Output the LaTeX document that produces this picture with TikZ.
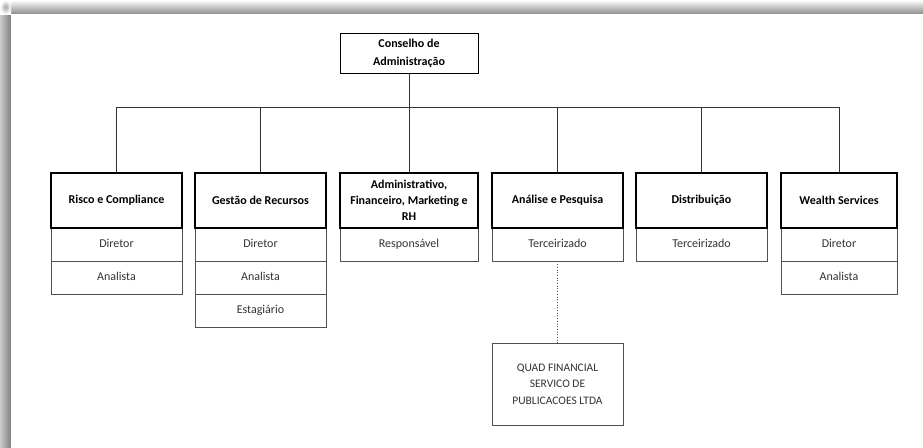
\documentclass[tikz,border=0pt]{standalone}
\usepackage{fontspec}
\setmainfont{Carlito}
\usetikzlibrary{positioning}
\definecolor{subtext}{HTML}{333333}
\definecolor{subline}{HTML}{505050}
\begin{document}
\begin{tikzpicture}[x=1pt,y=-1pt,
  dept/.style={draw=black, line width=1.3pt, fill=white, minimum height=55pt, inner sep=2pt,
    font=\fontsize{12}{16}\selectfont\bfseries, align=center, text=black},
  subrow/.style={draw=subline, line width=0.8pt, fill=white, minimum height=33pt, inner sep=1pt,
    text height=9pt, text depth=3pt,
    font=\fontsize{12}{15}\selectfont, text=subtext},
  topbox/.style={draw=black, line width=0.9pt, fill=white, minimum width=138pt, minimum height=40pt,
    font=\fontsize{12}{18}\selectfont\bfseries, align=center, text=black, inner sep=1pt},
  quadbox/.style={draw=subline, line width=0.8pt, fill=white, minimum width=131pt, minimum height=82pt,
    font=\fontsize{11.5}{16.5}\selectfont, align=center, text=subtext},
  link/.style={draw=black!80, line width=0.8pt},
  dotlink/.style={draw=black!70, line width=0.7pt, dotted}
]
\useasboundingbox (0,0) rectangle (923,447);
% page shadow
\fill[white] (0,0) rectangle (923,447);
\shade[top color=white, bottom color=black!45] (10,0) rectangle (923,14);
\shade[left color=black!20, right color=black!50] (0,14) rectangle (11,447);
\shade[inner color=black!35, outer color=white] (0,0) rectangle (11,14);
\fill[white] (11,14) rectangle (923,447);

% top
\node[topbox] (top) at (409,53) {Conselho de\\Administração};

% departments
\node[dept, minimum width=131pt] (d1) at (116.5,200.5) {Risco e Compliance};
\node[dept, minimum width=131pt] (d2) at (260.5,200.5) {Gestão de Recursos};
\node[dept, minimum width=138pt] (d3) at (409,200.5) {Administrativo,\\Financeiro, Marketing e\\RH};
\node[dept, minimum width=131pt] (d4) at (557.5,200.5) {Análise e Pesquisa};
\node[dept, minimum width=131pt] (d5) at (701.5,200.5) {Distribuição};
\node[dept, minimum width=116pt] (d6) at (839,200.5) {Wealth Services};

% sub rows
\node[subrow, minimum width=131pt] (r1a) at (116.5,244.5) {Diretor};
\node[subrow, minimum width=131pt] (r1b) at (116.5,277.5) {Analista};
\node[subrow, minimum width=131pt] (r2a) at (260.5,244.5) {Diretor};
\node[subrow, minimum width=131pt] (r2b) at (260.5,277.5) {Analista};
\node[subrow, minimum width=131pt] (r2c) at (260.5,310.5) {Estagiário};
\node[subrow, minimum width=138pt] (r3a) at (409,244.5) {Responsável};
\node[subrow, minimum width=131pt] (r4a) at (557.5,244.5) {Terceirizado};
\node[subrow, minimum width=131pt] (r5a) at (701.5,244.5) {Terceirizado};
\node[subrow, minimum width=116pt] (r6a) at (839,244.5) {Diretor};
\node[subrow, minimum width=116pt] (r6b) at (839,277.5) {Analista};

% redraw dept borders on top of sub rows
\foreach \n in {d1,d2,d3,d4,d5,d6}{\draw[line width=1.3pt] (\n.south west) rectangle (\n.north east);}

% outsourced provider
\node[quadbox] (quad) at (557.5,384) {QUAD FINANCIAL\\SERVICO DE\\PUBLICACOES LTDA};

% connectors
\coordinate (bus) at (0,107);
\draw[link] (top.south) -- (top.south |- bus);
\draw[link] (d1.north |- bus) -- (d6.north |- bus);
\foreach \n in {d1,d2,d3,d4,d5,d6}{\draw[link] (\n.north |- bus) -- (\n.north);}
\draw[dotlink] (r4a.south) -- (quad.north);
\end{tikzpicture}
\end{document}
